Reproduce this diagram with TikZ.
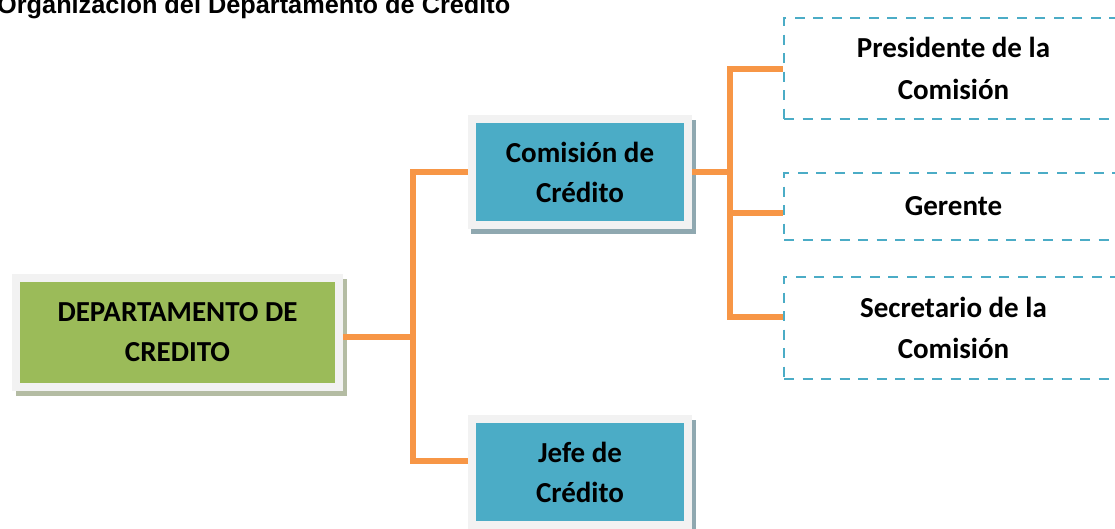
\documentclass[tikz,border=0pt]{standalone}
\usepackage{fontspec}
\setmainfont{Carlito}
\newfontfamily\titlefont{Liberation Sans}
\usetikzlibrary{calc}
\definecolor{boxgreen}{RGB}{155, 187, 89}
\definecolor{boxblue}{RGB}{75, 172, 198}
\definecolor{linkorange}{RGB}{247, 150, 70}
\definecolor{framegray}{RGB}{242, 242, 242}
\definecolor{shadegreen}{RGB}{180, 188, 163}
\definecolor{shadeblue}{RGB}{143, 168, 176}

\tikzset{
  unitbox/.style 2 args={draw=framegray, line width=8pt, fill=#1, inner sep=0pt, align=center,
    preaction={draw=#2, fill=#2, transform canvas={shift={(3.5pt,-5pt)}}},
    font=\fontsize{29}{40}\selectfont\bfseries},
  rolebox/.style={draw=boxblue, line width=2.5pt, dash pattern=on 10pt off 8.5pt, inner sep=0pt,
    align=center, minimum width=339pt, font=\fontsize{29}{41.5}\selectfont\bfseries},
  conn/.style={draw=linkorange, line width=6pt}
}

\begin{document}
\begin{tikzpicture}[x=1pt, y=-1pt]
  \clip (0,0) rectangle (1115,528);

  % title
  \node[font=\titlefont\fontsize{25.3}{30}\selectfont\bfseries, anchor=base west, inner sep=0pt] (title) at (-3,13.5) {Organización del Departamento de Crédito};

  % departamento
  \node[unitbox={boxgreen}{shadegreen}, minimum width=323pt, minimum height=109pt] (dep) at (177.5,332.5) {DEPARTAMENTO DE\\CREDITO};

  % comision y jefe
  \node[unitbox={boxblue}{shadeblue}, minimum width=216.5pt, minimum height=106pt] (com) at (580,172) {Comisión de\\Crédito};
  \node[unitbox={boxblue}{shadeblue}, minimum width=216.5pt, minimum height=106pt] (jefe) at (580,472) {Jefe de\\Crédito};

  % miembros de la comision
  \node[rolebox, minimum height=101pt] (pres) at (953.5,68.5) {Presidente de la\\Comisión};
  \node[rolebox, minimum height=67pt] (ger) at (953.5,206.5) {Gerente};
  \node[rolebox, minimum height=102pt] (sec) at (953.5,328) {Secretario de la\\Comisión};

  % connectors
  \coordinate (forkL) at (413,337);
  \coordinate (forkR) at (730,172);
  \draw[conn] ([yshift=-4.5pt]dep.east) -- (forkL);
  \draw[conn] (com.west) -| (forkL) |- ([yshift=11pt]jefe.west);
  \draw[conn] (com.east) -- (forkR);
  \draw[conn] (pres.west) -| (forkR) |- ([yshift=11pt]sec.west);
  \draw[conn] ([yshift=-6.5pt]ger.west) -- ++(-50,0);
\end{tikzpicture}
\end{document}
